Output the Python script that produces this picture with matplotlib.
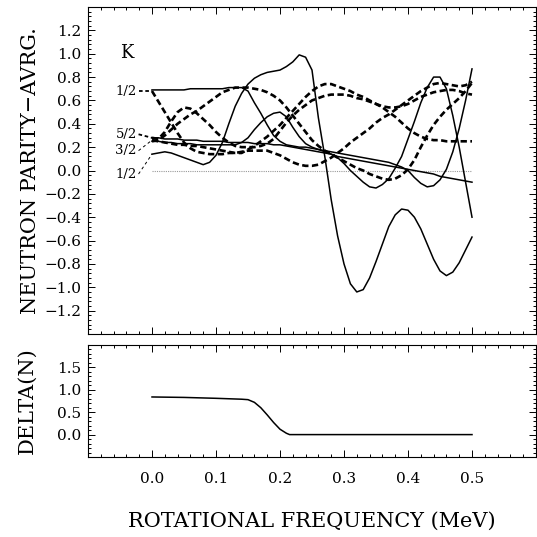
import numpy as np
import matplotlib
matplotlib.use("Agg")
import matplotlib.pyplot as plt
from matplotlib.ticker import MultipleLocator, FixedLocator

plt.rcParams['font.family'] = ['DejaVu Serif']

# rotational frequency grid (MeV)
omega = np.round(np.arange(51) * 0.01, 2)

# solid curves (one signature)
solid_half_low = [0.14, 0.15, 0.16, 0.15, 0.13, 0.11, 0.09, 0.07, 0.05, 0.07,
                  0.13, 0.24, 0.40, 0.55, 0.66, 0.74, 0.79, 0.82, 0.84, 0.85,
                  0.86, 0.89, 0.93, 0.99, 0.97, 0.86, 0.45, 0.12, -0.25, -0.56,
                  -0.80, -0.97, -1.04, -1.02, -0.92, -0.78, -0.63, -0.48, -0.38, -0.33,
                  -0.34, -0.40, -0.50, -0.63, -0.76, -0.86, -0.90, -0.87, -0.79, -0.68,
                  -0.57]
solid_half_up = [0.69, 0.69, 0.69, 0.69, 0.69, 0.69, 0.70, 0.70, 0.70, 0.70,
                 0.70, 0.70, 0.71, 0.71, 0.71, 0.68, 0.58, 0.49, 0.39, 0.30,
                 0.25, 0.22, 0.21, 0.20, 0.20, 0.19, 0.18, 0.17, 0.16, 0.15,
                 0.14, 0.13, 0.12, 0.11, 0.10, 0.09, 0.08, 0.07, 0.05, 0.03,
                 0.00, -0.06, -0.11, -0.14, -0.13, -0.08, 0.01, 0.16, 0.36, 0.60,
                 0.87]
solid_five = [0.28, 0.28, 0.27, 0.27, 0.27, 0.26, 0.26, 0.26, 0.25, 0.25,
              0.25, 0.25, 0.24, 0.24, 0.24, 0.24, 0.23, 0.23, 0.23, 0.22,
              0.22, 0.21, 0.20, 0.19, 0.18, 0.17, 0.16, 0.15, 0.14, 0.12,
              0.11, 0.10, 0.09, 0.08, 0.07, 0.06, 0.05, 0.04, 0.03, 0.02,
              0.01, 0.00, -0.01, -0.02, -0.03, -0.05, -0.06, -0.07, -0.08, -0.09,
              -0.10]
solid_three = [0.25, 0.25, 0.24, 0.24, 0.23, 0.23, 0.23, 0.22, 0.22, 0.22,
               0.22, 0.22, 0.22, 0.22, 0.24, 0.28, 0.35, 0.41, 0.46, 0.49,
               0.50, 0.46, 0.37, 0.29, 0.23, 0.20, 0.18, 0.16, 0.14, 0.11,
               0.06, 0.00, -0.05, -0.10, -0.14, -0.15, -0.12, -0.07, 0.02, 0.12,
               0.27, 0.42, 0.58, 0.71, 0.80, 0.80, 0.70, 0.47, 0.20, -0.10,
               -0.40]

# dashed curves (other signature)
dash_half_up = [0.68, 0.59, 0.50, 0.41, 0.32, 0.24, 0.19, 0.16, 0.15, 0.14,
                0.14, 0.14, 0.15, 0.15, 0.16, 0.17, 0.17, 0.17, 0.17, 0.15,
                0.13, 0.10, 0.07, 0.05, 0.04, 0.04, 0.05, 0.08, 0.11, 0.15,
                0.19, 0.24, 0.28, 0.32, 0.36, 0.41, 0.45, 0.48, 0.52, 0.56,
                0.60, 0.64, 0.68, 0.71, 0.74, 0.75, 0.74, 0.73, 0.72, 0.73,
                0.76]
dash_five = [0.28, 0.27, 0.33, 0.42, 0.50, 0.54, 0.53, 0.49, 0.44, 0.39,
             0.33, 0.28, 0.24, 0.21, 0.20, 0.20, 0.20, 0.21, 0.23, 0.27,
             0.34, 0.41, 0.47, 0.52, 0.56, 0.60, 0.62, 0.64, 0.65, 0.65,
             0.65, 0.64, 0.62, 0.61, 0.59, 0.57, 0.55, 0.54, 0.54, 0.55,
             0.57, 0.60, 0.63, 0.65, 0.67, 0.68, 0.69, 0.69, 0.68, 0.66,
             0.65]
dash_three = [0.25, 0.26, 0.30, 0.35, 0.40, 0.44, 0.48, 0.51, 0.55, 0.59,
              0.63, 0.67, 0.69, 0.71, 0.71, 0.71, 0.70, 0.69, 0.67, 0.64,
              0.60, 0.54, 0.47, 0.40, 0.33, 0.26, 0.21, 0.17, 0.14, 0.11,
              0.08, 0.05, 0.02, 0.00, -0.03, -0.05, -0.07, -0.08, -0.07, -0.04,
              0.01, 0.09, 0.20, 0.30, 0.39, 0.46, 0.52, 0.57, 0.62, 0.68,
              0.75]
dash_half_low = [0.26, 0.25, 0.24, 0.23, 0.22, 0.22, 0.21, 0.21, 0.20, 0.19,
                 0.18, 0.17, 0.16, 0.15, 0.15, 0.18, 0.21, 0.25, 0.29, 0.34,
                 0.39, 0.45, 0.51, 0.57, 0.63, 0.68, 0.72, 0.74, 0.74, 0.72,
                 0.70, 0.68, 0.65, 0.63, 0.60, 0.57, 0.54, 0.50, 0.46, 0.41,
                 0.36, 0.32, 0.29, 0.27, 0.26, 0.26, 0.25, 0.25, 0.25, 0.25,
                 0.25]

# pairing gap
delta_x = [0.0, 0.05, 0.10, 0.14, 0.15, 0.16, 0.17, 0.18, 0.19, 0.20, 0.21, 0.215, 0.30, 0.40, 0.50]
delta_n = [0.84, 0.83, 0.81, 0.79, 0.78, 0.72, 0.60, 0.44, 0.27, 0.12, 0.03, 0.0, 0.0, 0.0, 0.0]

# K labels: text, y of text, start value of curve
k_labels = ["1/2", "5/2", "3/2", "1/2"]
k_text_y = [0.68, 0.31, 0.17, -0.03]
k_start_y = [0.68, 0.28, 0.26, 0.14]

fig = plt.figure(figsize=(5.37, 5.37), dpi=100)
ax = fig.add_axes([88 / 537, 1 - 334 / 537, 448 / 537, 327 / 537])
ax2 = fig.add_axes([88 / 537, 1 - 457 / 537, 448 / 537, 112 / 537])

ax.plot([0, 0.5], [0, 0], color='#999999', lw=0.8, ls=(0, (1, 1)))
for ys in [solid_half_low, solid_half_up, solid_five, solid_three]:
    ax.plot(omega, ys, color='black', lw=1.1)
for ys in [dash_half_up, dash_five, dash_three, dash_half_low]:
    ax.plot(omega, ys, color='black', lw=1.9, dashes=(2.4, 1.3))

for i, (lab, ty, sy) in enumerate(zip(k_labels, k_text_y, k_start_y)):
    ax.text(-0.024, ty, lab, ha='right', va='center', fontsize=9.5)
    if i < 2:
        ax.plot([-0.021, 0], [ty, sy], color='black', lw=1.3, dashes=(2, 1.5))
    else:
        ax.plot([-0.021, 0], [ty, sy], color='black', lw=0.7, dashes=(3, 3))
ax.text(-0.04, 1.01, "K", ha='center', va='center', fontsize=13)

ax2.plot(delta_x, delta_n, color='black', lw=1.1)

for a in (ax, ax2):
    a.set_xlim(-0.1, 0.6)
    a.xaxis.set_major_locator(FixedLocator([0.0, 0.1, 0.2, 0.3, 0.4, 0.5]))
    a.xaxis.set_minor_locator(MultipleLocator(0.02))
    a.tick_params(which='both', direction='in', top=True, right=True, width=0.7)
    a.tick_params(which='major', length=5, labelsize=11)
    a.tick_params(which='minor', length=2.5)
    for s in a.spines.values():
        s.set_linewidth(0.8)

ax.set_ylim(-1.4, 1.4)
ax.yaxis.set_major_locator(FixedLocator(np.round(np.arange(-6, 7) * 0.2, 1)))
ax.yaxis.set_minor_locator(MultipleLocator(0.04))
ax.yaxis.set_major_formatter(plt.FuncFormatter(lambda v, p: f"{v:.1f}".replace('-', '\u2212')))
ax.tick_params(axis='x', labelbottom=False)
ax.tick_params(axis='y', pad=5)
ax.set_ylabel("NEUTRON PARITY\u2212AVRG.", fontsize=15)
ax.yaxis.set_label_coords(-0.107, 0.5)

ax2.set_ylim(-0.5, 2.0)
ax2.yaxis.set_major_locator(FixedLocator([0.0, 0.5, 1.0, 1.5]))
ax2.yaxis.set_minor_locator(MultipleLocator(0.1))
ax2.yaxis.set_major_formatter(plt.FuncFormatter(lambda v, p: f"{v:.1f}"))
ax2.xaxis.set_major_formatter(plt.FuncFormatter(lambda v, p: f"{v:.1f}"))
ax2.tick_params(axis='x', pad=11)
ax2.tick_params(axis='y', pad=5)
ax2.set_ylabel("DELTA(N)", fontsize=15)
ax2.yaxis.set_label_coords(-0.115, 0.5)

fig.text(312 / 537, 1 - 521 / 537, "ROTATIONAL FREQUENCY (MeV)", ha='center', va='center', fontsize=15)

fig.savefig("out.png", dpi=100)
